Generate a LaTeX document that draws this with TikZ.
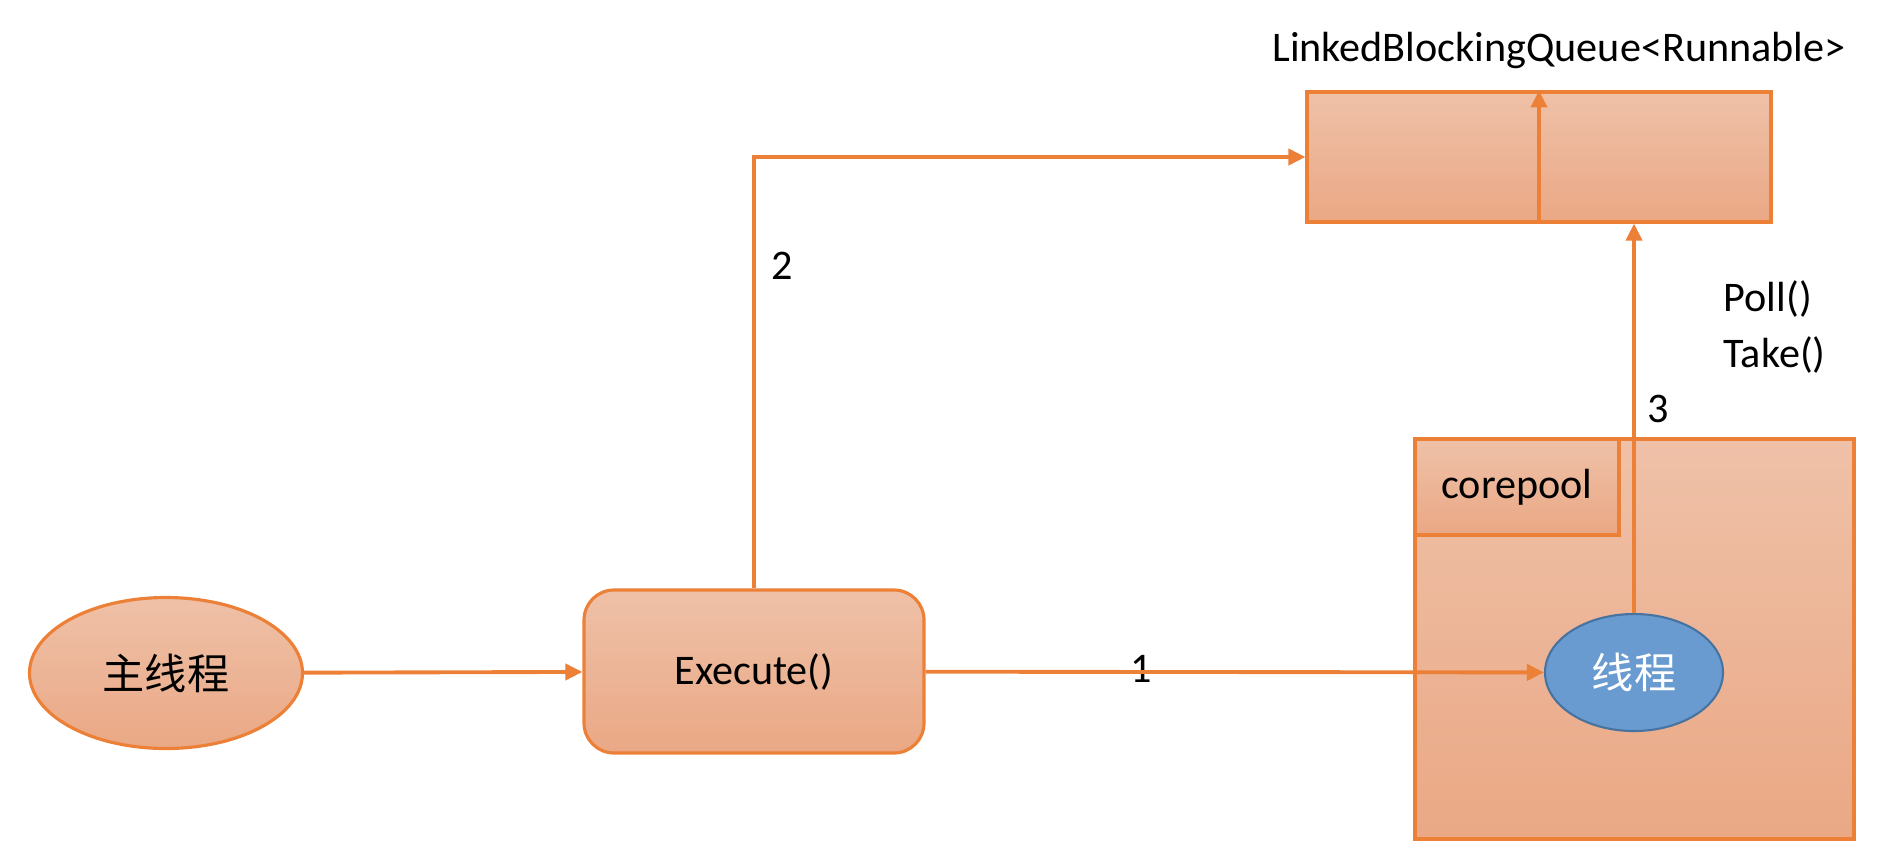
\documentclass[tikz,border=0pt]{standalone}
\usepackage{fontspec}
\setmainfont{Carlito}
\newfontfamily\cjk{Noto Sans CJK SC}
\usepackage{xcolor}
\usepackage{tikz}
\usetikzlibrary{shapes,positioning,arrows.meta}
\definecolor{orline}{RGB}{237,128,55}
\definecolor{ortop}{RGB}{239,193,168}
\definecolor{orbot}{RGB}{234,168,133}
\definecolor{thblue}{RGB}{106,155,208}
\definecolor{thline}{RGB}{70,115,160}
\tikzset{obox/.style={rectangle,draw=orline,line width=0.9pt,top color=ortop,bottom color=orbot,inner sep=0pt},
         oell/.style={ellipse,draw=orline,line width=0.9pt,top color=ortop,bottom color=orbot,inner sep=0pt},
         tell/.style={ellipse,draw=thline,line width=0.6pt,fill=thblue,text=white,inner sep=0pt},
         link/.style={draw=orline,line width=1.1pt,-{Triangle[length=0.17cm,width=0.16cm]}},
         lbl/.style={font=\fontsize{12}{14}\selectfont,inner sep=0pt}}
\begin{document}
\begin{tikzpicture}[>=stealth]
        \useasboundingbox (0,0) rectangle (18.8,8.56);
        \node[obox,minimum width=4.39cm,minimum height=4.0cm] (pool) at (16.345,2.17) {};
        \node[obox,minimum width=2.04cm,minimum height=0.96cm,lbl] (core) at (15.17,3.69) {corepool};
        \node[obox,minimum width=4.64cm,minimum height=1.30cm] (queue) at (15.39,6.99) {};
        \node[lbl] (qname) at (15.59,8.06) {LinkedBlockingQueue<Runnable>};
        \node[oell,minimum width=2.73cm,minimum height=1.51cm,lbl] (main) at (1.66,1.83) {\cjk 主线程};
        \node[obox,rounded corners=0.3cm,minimum width=3.40cm,minimum height=1.63cm,lbl] (exec) at (7.54,1.845) {Execute()};
        \node[tell,minimum width=1.78cm,minimum height=1.17cm,lbl,text=white] (thread) at (16.34,1.835) {\cjk 线程};

        \node[lbl] (one) at (11.41,1.87) {1};
        \node[lbl] (two) at (7.82,5.90) {2};
        \node[lbl] (three) at (16.58,4.47) {3};
        \node[lbl,anchor=west] (poll) at (17.23,5.57) {Poll()};
        \node[lbl,anchor=west] (take) at (17.23,5.01) {Take()};

        \draw [link] (main) -- (exec);
        \draw [link] (exec) -- (thread);
        \draw [link] (exec.north) |- (queue.west);
        \draw [link] (thread.north) -- (thread.north |- queue.south);
        \draw [link] (queue.south) -- (queue.north);
    \end{tikzpicture}
\end{document}
